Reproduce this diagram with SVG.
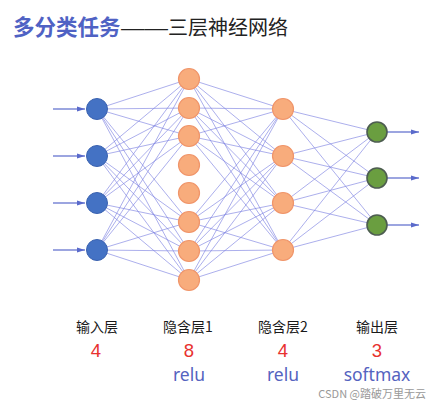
<svg xmlns="http://www.w3.org/2000/svg" width="442" height="409" viewBox="0 0 442 409">
<defs>
<style>
.c{stroke:#7b7fe0;stroke-width:0.9;stroke-opacity:0.7;fill:none}
.a{stroke:#5a6acb;stroke-width:1.2;fill:none}
.in{fill:#4472c4;stroke:#3a62b0;stroke-width:1}
.hd{fill:#f8ac7c;stroke:#f0956a;stroke-width:1.2}
.out{fill:#6a9e40;stroke:#4d5d50;stroke-width:1.6}
.lab{font-family:"Noto Sans CJK SC","Liberation Sans",sans-serif;font-size:14px;fill:#1a1a1a;text-anchor:middle}
.num{font-family:"Liberation Sans","Noto Sans",sans-serif;font-size:18.5px;fill:#e8312f;text-anchor:middle}
.act{font-family:"Noto Sans","Liberation Sans",sans-serif;font-size:17.5px;fill:#5563c0;text-anchor:middle}
</style>
<marker id="ah" markerWidth="8" markerHeight="6" refX="8" refY="3" orient="auto" markerUnits="userSpaceOnUse">
<path d="M0,0.5 L8,3 L0,5.5 z" fill="#5a6acb"/>
</marker>
</defs>
<rect width="442" height="409" fill="#ffffff"/>
<g id="title">
<text x="13" y="35" font-family="Noto Sans CJK SC, sans-serif" font-size="21.5" font-weight="bold" fill="#4f62c4">多分类任务</text>
<text x="121" y="35" textLength="47" lengthAdjust="spacingAndGlyphs" font-family="Liberation Sans, sans-serif" font-size="20" fill="#222">——</text>
<text x="168" y="35" font-family="Noto Sans CJK SC, sans-serif" font-size="20" fill="#222">三层神经网络</text>
</g>
<g id="connectors">
<g class="c">
<path d="M97,109 L189,79 M97,109 L189,108 M97,109 L189,136 M97,109 L189,222 M97,109 L189,251 M97,109 L189,280"/>
<path d="M97,156 L189,79 M97,156 L189,108 M97,156 L189,136 M97,156 L189,222 M97,156 L189,251 M97,156 L189,280"/>
<path d="M97,203 L189,79 M97,203 L189,108 M97,203 L189,136 M97,203 L189,222 M97,203 L189,251 M97,203 L189,280"/>
<path d="M97,250 L189,79 M97,250 L189,108 M97,250 L189,136 M97,250 L189,222 M97,250 L189,251 M97,250 L189,280"/>
<path d="M189,79 L283,109 M189,79 L283,156 M189,79 L283,203 M189,79 L283,250"/>
<path d="M189,108 L283,109 M189,108 L283,156 M189,108 L283,203 M189,108 L283,250"/>
<path d="M189,136 L283,109 M189,136 L283,156 M189,136 L283,203 M189,136 L283,250"/>
<path d="M189,222 L283,109 M189,222 L283,156 M189,222 L283,203 M189,222 L283,250"/>
<path d="M189,251 L283,109 M189,251 L283,156 M189,251 L283,203 M189,251 L283,250"/>
<path d="M189,280 L283,109 M189,280 L283,156 M189,280 L283,203 M189,280 L283,250"/>
<path d="M283,109 L377,132 M283,109 L377,178 M283,109 L377,225"/>
<path d="M283,156 L377,132 M283,156 L377,178 M283,156 L377,225"/>
<path d="M283,203 L377,132 M283,203 L377,178 M283,203 L377,225"/>
<path d="M283,250 L377,132 M283,250 L377,178 M283,250 L377,225"/>
</g>
<g class="a">
<line x1="53" y1="109" x2="85" y2="109" marker-end="url(#ah)"/>
<line x1="53" y1="156" x2="85" y2="156" marker-end="url(#ah)"/>
<line x1="53" y1="203" x2="85" y2="203" marker-end="url(#ah)"/>
<line x1="53" y1="250" x2="85" y2="250" marker-end="url(#ah)"/>
<line x1="387" y1="132" x2="419" y2="132" marker-end="url(#ah)"/>
<line x1="387" y1="178" x2="419" y2="178" marker-end="url(#ah)"/>
<line x1="387" y1="225" x2="419" y2="225" marker-end="url(#ah)"/>
</g>
</g>
<g id="input-layer">
<circle class="in" cx="97" cy="109" r="10.5"/>
<circle class="in" cx="97" cy="156" r="10.5"/>
<circle class="in" cx="97" cy="203" r="10.5"/>
<circle class="in" cx="97" cy="250" r="10.5"/>
</g>
<g id="hidden-layer-1">
<circle class="hd" cx="189" cy="79" r="10.5"/>
<circle class="hd" cx="189" cy="108" r="10.5"/>
<circle class="hd" cx="189" cy="136" r="10.5"/>
<circle class="hd" cx="189" cy="165" r="10.5"/>
<circle class="hd" cx="189" cy="193" r="10.5"/>
<circle class="hd" cx="189" cy="222" r="10.5"/>
<circle class="hd" cx="189" cy="251" r="10.5"/>
<circle class="hd" cx="189" cy="280" r="10.5"/>
</g>
<g id="hidden-layer-2">
<circle class="hd" cx="283" cy="109" r="10.5"/>
<circle class="hd" cx="283" cy="156" r="10.5"/>
<circle class="hd" cx="283" cy="203" r="10.5"/>
<circle class="hd" cx="283" cy="250" r="10.5"/>
</g>
<g id="output-layer">
<circle class="out" cx="377" cy="132" r="10"/>
<circle class="out" cx="377" cy="178" r="10"/>
<circle class="out" cx="377" cy="225" r="10"/>
</g>
<g id="labels">
<text class="lab" x="97" y="332">输入层</text>
<text class="lab" x="188" y="332">隐含层1</text>
<text class="lab" x="283" y="332">隐含层2</text>
<text class="lab" x="377" y="332">输出层</text>
<text class="num" x="96" y="357">4</text>
<text class="num" x="189" y="357">8</text>
<text class="num" x="283" y="357">4</text>
<text class="num" x="377" y="357">3</text>
<text class="act" x="189" y="381">relu</text>
<text class="act" x="283" y="381">relu</text>
<text class="act" x="377" y="381">softmax</text>
</g>
<g id="watermark">
<text x="426" y="398" text-anchor="end" font-family="Noto Sans CJK SC, sans-serif" font-size="11" fill="#999">CSDN @踏破万里无云</text>
</g>
</svg>
